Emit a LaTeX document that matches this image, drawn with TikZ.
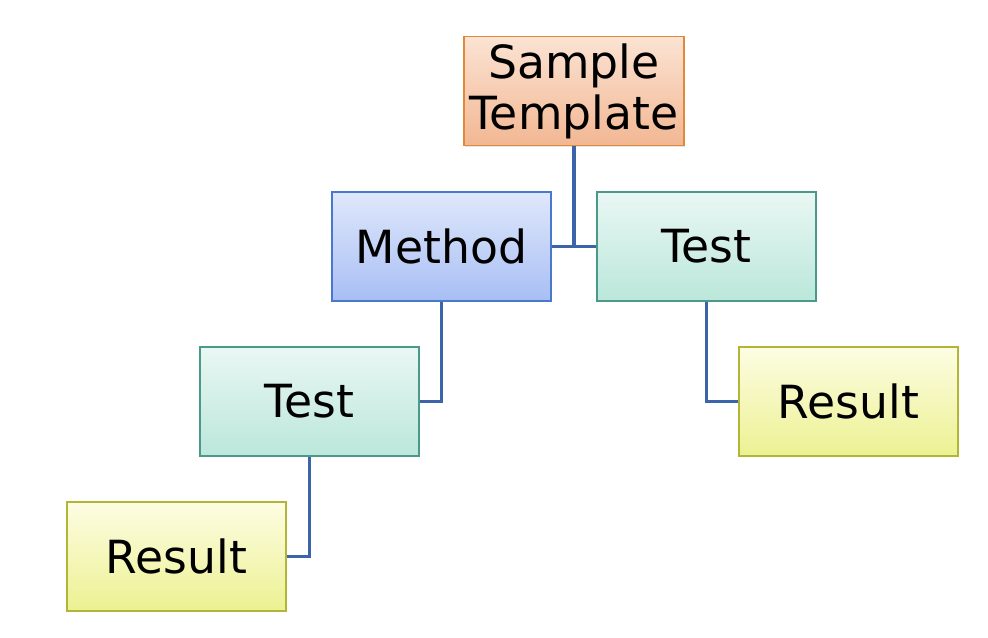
\documentclass[tikz,border=0pt]{standalone}
\usepackage{fontspec}
\setmainfont{DejaVu Sans}
\usetikzlibrary{positioning,shadows}

\definecolor{linkblue}{HTML}{3B65A8}
\definecolor{orangeline}{HTML}{E08A38}
\definecolor{orangetop}{HTML}{FBE3D3}
\definecolor{orangebot}{HTML}{F2B793}
\definecolor{blueline}{HTML}{4A78CC}
\definecolor{bluetop}{HTML}{DFE8FB}
\definecolor{bluebot}{HTML}{A8BEF4}
\definecolor{greenline}{HTML}{4A998A}
\definecolor{greentop}{HTML}{E9F7F3}
\definecolor{greenbot}{HTML}{BBE7DA}
\definecolor{yellowline}{HTML}{B2B536}
\definecolor{yellowtop}{HTML}{FDFDE3}
\definecolor{yellowbot}{HTML}{ECF192}

\begin{document}
\begin{tikzpicture}[x=0.02cm, y=-0.02cm,
    box/.style={rectangle, draw, line width=1.1pt, minimum width=4.38cm, minimum height=2.18cm,
        align=center, font=\fontsize{26}{29}\selectfont,
        drop shadow={opacity=0.2, shadow xshift=0.8pt, shadow yshift=-0.8pt}},
    orangebox/.style={box, draw=orangeline, top color=orangetop, bottom color=orangebot},
    bluebox/.style={box, draw=blueline, top color=bluetop, bottom color=bluebot},
    greenbox/.style={box, draw=greenline, top color=greentop, bottom color=greenbot},
    yellowbox/.style={box, draw=yellowline, top color=yellowtop, bottom color=yellowbot},
    link/.style={draw=linkblue, line width=0.075cm}]

\useasboundingbox (0,0) rectangle (988,637);

% Define nodes
\node[orangebox] (tmpl) at (574, 91) {Sample\\Template};
\node[bluebox] (method) at (441.5, 246.5) {Method};
\node[greenbox] (testR) at (706.5, 246.5) {Test};
\node[greenbox] (testL) at (309.5, 401.5) {Test};
\node[yellowbox] (resR) at (848.5, 401.5) {Result};
\node[yellowbox] (resL) at (176.5, 556.5) {Result};

% Draw links
\path[link]
    (method.east) -- (testR.west)
    (tmpl.south) -- (tmpl.south |- method.east)
    (method.south) |- (testL.east)
    (testR.south) |- (resR.west)
    (testL.south) |- (resL.east);

\end{tikzpicture}
\end{document}
